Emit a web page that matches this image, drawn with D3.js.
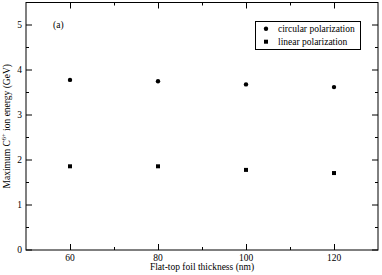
<!DOCTYPE html>
<html><head><meta charset="utf-8">
<script src="https://cdn.jsdelivr.net/npm/d3@7"></script>
<style>body{margin:0;background:#fff}svg{display:block}text{font-family:"Liberation Serif","DejaVu Serif",serif;fill:#000}</style>
</head><body><svg id="c" width="382" height="275"></svg>
<script>
const thickness = [60, 80, 100, 120];
const circular = [3.78, 3.75, 3.68, 3.62];
const linear = [1.86, 1.86, 1.78, 1.71];
const xTicks = [60, 80, 100, 120];
const yTicks = [0, 1, 2, 3, 4, 5];
const seriesNames = ["circular polarization", "linear polarization"];

const svg = d3.select("#c");
const L = 26, R = 378, T = 2.5, B = 250;
const x = d3.scaleLinear().domain([50, 130]).range([L, R]);
const y = d3.scaleLinear().domain([0, 5.5]).range([B, T]);
const fs = 9.5;

const g = svg.append("g");
// frame
g.append("rect").attr("x", L).attr("y", T).attr("width", R - L).attr("height", B - T)
  .attr("fill", "none").attr("stroke", "#000").attr("stroke-width", 1);

// ticks inward
const xMinor = d3.range(50, 131, 10).filter(v => v > 50 && v < 130 && !xTicks.includes(v));
const yMinor = d3.range(0.5, 5.5, 1);
const tick = (x1, y1, x2, y2) => g.append("line").attr("x1", x1).attr("y1", y1).attr("x2", x2).attr("y2", y2).attr("stroke", "#000").attr("stroke-width", 1);
const maj = 6, mn = 3;
xTicks.forEach(v => { const px = Math.round(x(v)) + 0.5; tick(px, B, px, B - maj); tick(px, T, px, T + maj); });
xMinor.forEach(v => { const px = Math.round(x(v)) + 0.5; tick(px, B, px, B - mn); tick(px, T, px, T + mn); });
yTicks.forEach(v => { const py = y(v); tick(L, py, L + maj, py); tick(R, py, R - maj, py); });
yMinor.forEach(v => { const py = y(v); tick(L, py, L + mn, py); tick(R, py, R - mn, py); });

// tick labels
xTicks.forEach(v => g.append("text").attr("x", x(v)).attr("y", B + 11).attr("text-anchor", "middle").attr("font-size", fs).text(v));
yTicks.forEach(v => g.append("text").attr("x", L - 4).attr("y", y(v) + 3.3).attr("text-anchor", "end").attr("font-size", fs).text(v));

// axis titles
g.append("text").attr("x", (L + R) / 2).attr("y", 270).attr("text-anchor", "middle").attr("font-size", fs).text("Flat-top foil thickness (nm)");
const yl = g.append("text").attr("transform", `translate(10,${(T + B) / 2}) rotate(-90)`).attr("text-anchor", "middle").attr("font-size", fs);
yl.append("tspan").text("Maximum C");
yl.append("tspan").attr("font-size", 6.5).attr("dy", -4).text("6+");
yl.append("tspan").attr("dy", 4).text(" ion energy (GeV)");

// panel label
g.append("text").attr("x", 53).attr("y", 28).attr("font-size", fs).text("(a)");

// data
g.selectAll(".circ").data(thickness).enter().append("circle")
  .attr("cx", (d) => x(d)).attr("cy", (d, i) => y(circular[i])).attr("r", 2.2).attr("fill", "#000");
g.selectAll(".sq").data(thickness).enter().append("rect")
  .attr("x", (d) => x(d) - 2).attr("y", (d, i) => y(linear[i]) - 2).attr("width", 4).attr("height", 4).attr("fill", "#000");

// legend
g.append("rect").attr("x", 255.5).attr("y", 21.5).attr("width", 105).attr("height", 28)
  .attr("fill", "#fff").attr("stroke", "#000").attr("stroke-width", 1);
g.append("circle").attr("cx", 266).attr("cy", 28.7).attr("r", 2.2).attr("fill", "#000");
g.append("rect").attr("x", 264).attr("y", 39.7).attr("width", 4).attr("height", 4).attr("fill", "#000");
g.append("text").attr("x", 278).attr("y", 32).attr("font-size", fs).text(seriesNames[0]);
g.append("text").attr("x", 278).attr("y", 45).attr("font-size", fs).text(seriesNames[1]);
</script></body></html>
